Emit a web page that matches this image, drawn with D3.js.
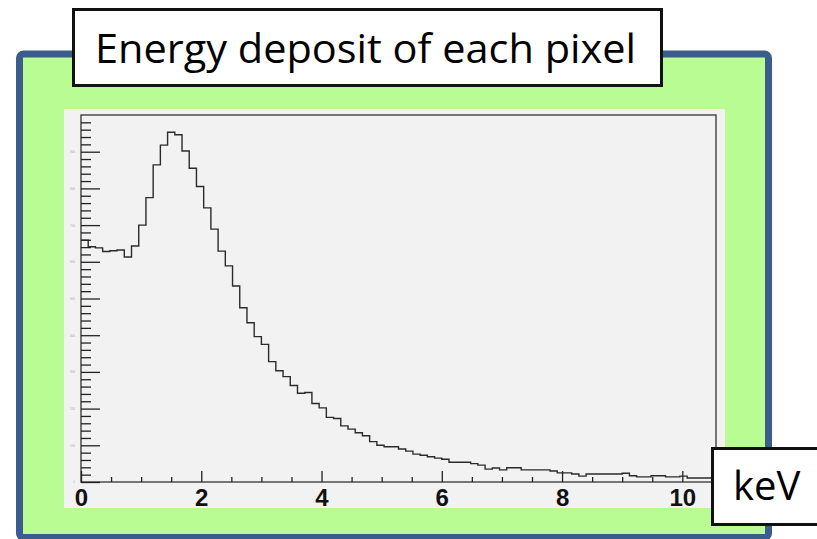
<!DOCTYPE html>
<html>
<head>
<meta charset="utf-8">
<script src="https://cdn.jsdelivr.net/npm/d3@7"></script>
<style>
  body { margin: 0; background: #fff; }
  svg { display: block; }
</style>
</head>
<body>
<svg id="chart" width="817" height="539"></svg>
<script>
// histogram: 88 bins of 0.12 keV starting at 0
var binStart = 0;
var binWidth = 0.12;
var counts = [
  659, 641, 638, 628, 630, 632, 613, 643, 700, 775,
  864, 918, 953, 946, 902, 855, 805, 747, 689, 629,
  589, 534, 475, 434, 396, 375, 328, 303, 287, 263,
  242, 244, 214, 202, 176, 173, 153, 144, 134, 126,
  110, 100, 96, 96, 90, 84, 76, 73, 69, 65,
  62, 54, 54, 54, 50, 46, 35, 38, 33, 39,
  39, 33, 33, 33, 33, 30, 25, 25, 22, 16,
  22, 22, 22, 22, 22, 24, 17, 14, 14, 17,
  17, 14, 14, 16, 11, 11, 11, 11
];
var xMajorTicks = [0, 2, 4, 6, 8, 10];
var xMinorTicks = [0.5, 1, 1.5, 2.5, 3, 3.5, 4.5, 5, 5.5, 6.5, 7, 7.5, 8.5, 9, 9.5, 10.5];
var yMajorTicks = [0, 100, 200, 300, 400, 500, 600, 700, 800, 900];
var yMinorTicks = d3.range(20, 1000, 20).filter(function(v) { return v % 100 !== 0; });
var titleText = "Energy deposit of each pixel";
var unitText = "keV";

var svg = d3.select("#chart");

// slide frame
svg.append("rect")
   .attr("x", 19.5).attr("y", 54).attr("width", 749).attr("height", 483.5)
   .attr("rx", 4)
   .style("fill", "#b9fc94")
   .style("stroke", "#3a5d8b")
   .style("stroke-width", 7);

// pad
svg.append("rect")
   .attr("x", 64).attr("y", 109).attr("width", 661).attr("height", 399)
   .style("fill", "#f2f2f2");

svg.append("clipPath").attr("id", "padclip")
   .append("rect").attr("x", 64).attr("y", 109).attr("width", 661).attr("height", 399);

var plot = svg.append("g").attr("clip-path", "url(#padclip)");

var x = d3.scaleLinear().domain([0, 10.56]).range([81, 716]);
var y = d3.scaleLinear().domain([0, 1000]).range([482, 115]);

// frame
plot.append("rect")
    .attr("x", x(0)).attr("y", y(1000))
    .attr("width", x(10.56) - x(0)).attr("height", y(0) - y(1000))
    .style("fill", "none").style("stroke", "#333").style("stroke-width", 1.3);

// histogram
var pts = counts.map(function(c, i) { return [binStart + i * binWidth, c]; });
pts.push([binStart + counts.length * binWidth, counts[counts.length - 1]]);

var line = d3.line()
    .x(function(d) { return x(d[0]); })
    .y(function(d) { return y(d[1]); })
    .curve(d3.curveStepAfter);

plot.append("path")
    .datum(pts)
    .attr("d", line)
    .style("fill", "none")
    .style("stroke", "#2b2b2b")
    .style("stroke-width", 1.4);

// Axis X
var gx = plot.append("g")
    .attr("transform", "translate(0," + y(0) + ")")
    .call(d3.axisBottom(x).tickValues(xMajorTicks).tickSize(-11).tickPadding(18).tickFormat(d3.format("d")));
gx.select(".domain").remove();
gx.selectAll("line").style("stroke", "#222").style("stroke-width", 1.3);
gx.selectAll("text")
  .attr("y", 24).attr("dy", 0)
  .style("font-family", "'Liberation Sans', Arial, sans-serif")
  .style("font-weight", "bold")
  .style("font-size", "24px")
  .style("fill", "#111");

var gxm = plot.append("g")
    .attr("transform", "translate(0," + y(0) + ")")
    .call(d3.axisBottom(x).tickValues(xMinorTicks).tickSize(-5).tickFormat(""));
gxm.select(".domain").remove();
gxm.selectAll("line").style("stroke", "#222").style("stroke-width", 1.3);

// Axis Y
var gy = plot.append("g")
    .attr("transform", "translate(" + x(0) + ",0)")
    .call(d3.axisLeft(y).tickValues(yMajorTicks).tickSize(-19).tickPadding(6));
gy.select(".domain").remove();
gy.selectAll("line").style("stroke", "#222").style("stroke-width", 1.3);
gy.selectAll("text")
  .style("font-family", "'Liberation Sans', Arial, sans-serif")
  .style("font-size", "3px")
  .style("fill", "#aaa");

var gym = plot.append("g")
    .attr("transform", "translate(" + x(0) + ",0)")
    .call(d3.axisLeft(y).tickValues(yMinorTicks).tickSize(-10).tickFormat(""));
gym.select(".domain").remove();
gym.selectAll("line").style("stroke", "#222").style("stroke-width", 1.3);

// Title box
svg.append("rect")
   .attr("x", 73.5).attr("y", 9.5).attr("width", 588).attr("height", 76)
   .style("fill", "#fff").style("stroke", "#111").style("stroke-width", 3);
svg.append("text")
   .attr("x", 95).attr("y", 63)
   .attr("textLength", 541).attr("lengthAdjust", "spacingAndGlyphs")
   .style("font-family", "'Open Sans', sans-serif")
   .style("font-size", "41px")
   .style("fill", "#000")
   .text(titleText);

// Unit box
svg.append("rect")
   .attr("x", 712.5).attr("y", 448.5).attr("width", 110).attr("height", 76)
   .style("fill", "#fff").style("stroke", "#111").style("stroke-width", 3);
svg.append("text")
   .attr("x", 733).attr("y", 500)
   .style("font-family", "'Open Sans', sans-serif")
   .style("font-size", "40px")
   .style("fill", "#000")
   .text(unitText);
</script>
</body>
</html>
